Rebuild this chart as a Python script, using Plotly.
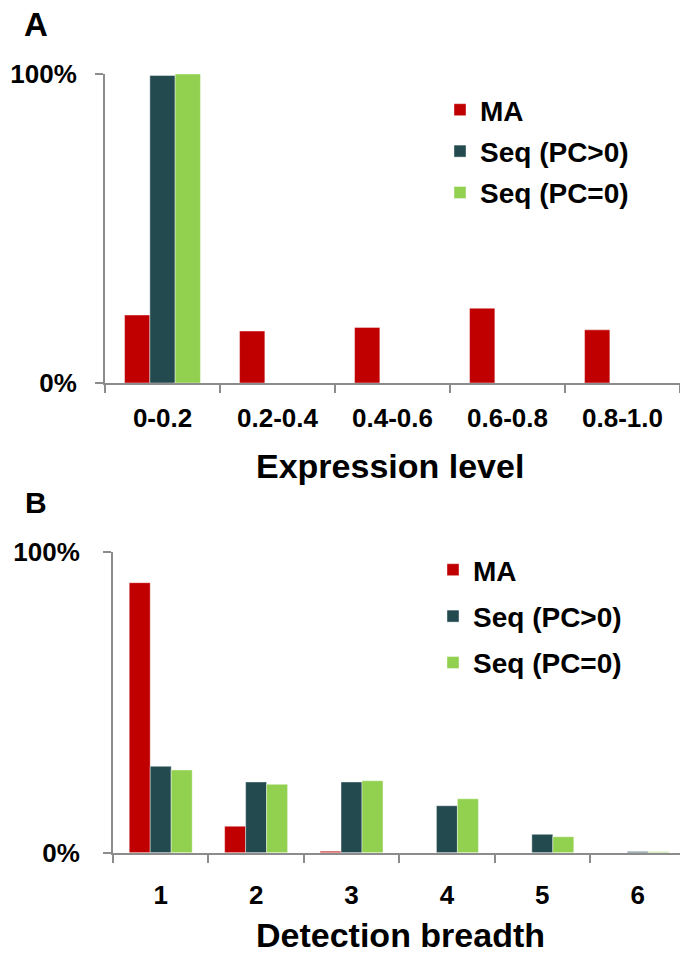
import plotly.graph_objects as go

# ---------------- data ----------------
expr_levels = ["0-0.2", "0.2-0.4", "0.4-0.6", "0.6-0.8", "0.8-1.0"]
expr_ma = [22.0, 16.8, 18.0, 24.2, 17.2]
expr_seq_pc_pos = [99.5, 0, 0, 0, 0]
expr_seq_pc_zero = [100.0, 0, 0, 0, 0]

breadth = ["1", "2", "3", "4", "5", "6"]
br_ma = [89.7, 8.8, 0.5, 0, 0, 0]
br_seq_pc_pos = [28.7, 23.5, 23.5, 15.6, 6.1, 0.4]
br_seq_pc_zero = [27.5, 22.7, 23.9, 17.9, 5.3, 0.3]

series_names = ["MA", "Seq (PC>0)", "Seq (PC=0)"]
y_tickvals = [0, 100]
y_ticktext = ["0%", "100%"]

# ---------------- style ----------------
W, H = 680, 959
colors = ["#C00000", "#234A4F", "#92D050"]
axis_gray = "#8C8C8C"
FONT = "Liberation Sans, Arial, sans-serif"
tick_font = dict(family=FONT, size=26, color="#000000", weight="bold")
legend_font = dict(family=FONT, size=28, color="#000000", weight="bold")
title_font = dict(family=FONT, size=34, color="#000000", weight="bold")

def px_x(p):
    return p / W

def px_y(p):
    return 1 - p / H

fig = go.Figure()

for name, vals, col in zip(series_names, [expr_ma, expr_seq_pc_pos, expr_seq_pc_zero], colors):
    fig.add_trace(go.Bar(x=expr_levels, y=vals, name=name,
                         marker=dict(color=col, line=dict(width=0.6, color="rgba(255,255,255,0.7)")),
                         xaxis="x", yaxis="y", legend="legend", legendgroup="A" + name))
for name, vals, col in zip(series_names, [br_ma, br_seq_pc_pos, br_seq_pc_zero], colors):
    fig.add_trace(go.Bar(x=breadth, y=vals, name=name,
                         marker=dict(color=col, line=dict(width=0.6, color="rgba(255,255,255,0.7)")),
                         xaxis="x2", yaxis="y2", legend="legend2", legendgroup="B" + name))

common_x = dict(type="category", showline=True, linecolor=axis_gray, linewidth=2,
                ticks="outside", ticklen=8, tickwidth=2, tickcolor=axis_gray,
                tickson="boundaries", showgrid=False, zeroline=False,
                tickfont=tick_font, automargin=False, fixedrange=True)
common_y = dict(range=[0, 100], showline=True, linecolor=axis_gray, linewidth=2,
                ticks="outside", ticklen=8, tickwidth=2, tickcolor=axis_gray,
                tickvals=y_tickvals, ticktext=y_ticktext, showgrid=False, zeroline=False,
                tickfont=tick_font, automargin=False, fixedrange=True)

fig.update_layout(
    width=W, height=H,
    margin=dict(l=0, r=0, t=0, b=0),
    paper_bgcolor="white", plot_bgcolor="white",
    barmode="group", bargap=0.34, bargroupgap=0,
    xaxis=dict(common_x, domain=[px_x(105), 1], range=[-0.5, 4.5], anchor="y",
               ticklabelstandoff=11),
    yaxis=dict(common_y, domain=[px_y(383), px_y(74)], anchor="x", ticklabelstandoff=13),
    xaxis2=dict(common_x, domain=[px_x(113), 1], range=[-0.5, 5.443], anchor="y2",
                ticklabelstandoff=18),
    yaxis2=dict(common_y, domain=[px_y(852.7), px_y(551.7)], anchor="x2", ticklabelstandoff=18),
    legend=dict(x=px_x(440), y=px_y(85), xanchor="left", yanchor="top",
                font=legend_font, bgcolor="rgba(0,0,0,0)", tracegroupgap=2,
                itemclick=False, itemdoubleclick=False),
    legend2=dict(x=px_x(433), y=px_y(545), xanchor="left", yanchor="top",
                 font=legend_font, bgcolor="rgba(0,0,0,0)", tracegroupgap=7,
                 itemclick=False, itemdoubleclick=False),
    annotations=[
        dict(text="A", x=px_x(36), y=px_y(25), xref="paper", yref="paper",
             xanchor="center", yanchor="middle", showarrow=False,
             font=dict(family=FONT, size=33, color="#000", weight="bold")),
        dict(text="B", x=px_x(36), y=px_y(502), xref="paper", yref="paper",
             xanchor="center", yanchor="middle", showarrow=False,
             font=dict(family=FONT, size=30, color="#000", weight="bold")),
        dict(text="Expression level", x=px_x(389.5), y=px_y(466), xref="paper", yref="paper",
             xanchor="center", yanchor="middle", showarrow=False, font=title_font),
        dict(text="Detection breadth", x=px_x(400), y=px_y(935), xref="paper", yref="paper",
             xanchor="center", yanchor="middle", showarrow=False, font=title_font),
    ],
)

fig.write_html("out.html")
